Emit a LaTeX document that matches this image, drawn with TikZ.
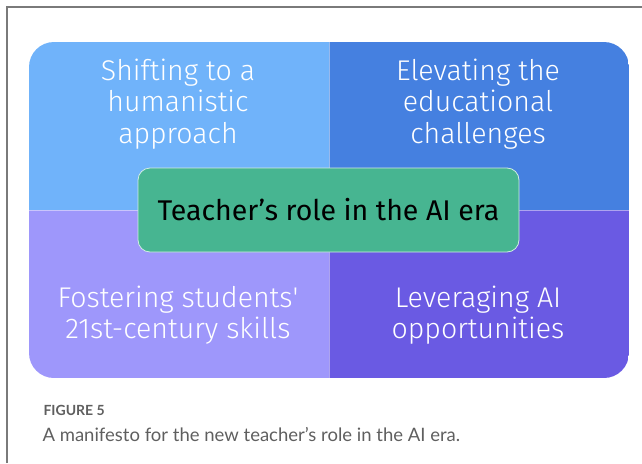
\documentclass[tikz,border=0pt]{standalone}
\usepackage{fontspec}
\setmainfont{Fira Sans}
\newfontfamily\quadfont{Fira Sans Light}
\newfontfamily\capfont{Lato}
\usepackage{xcolor}
\definecolor{sky}{HTML}{70B3FA}
\definecolor{ocean}{HTML}{4580E0}
\definecolor{lilac}{HTML}{9E97FB}
\definecolor{violet}{HTML}{6A5AE3}
\definecolor{mint}{HTML}{47B591}
\definecolor{framegray}{HTML}{7A7A7A}
\definecolor{capgray}{HTML}{5F5F5F}

\begin{document}
\begin{tikzpicture}[x=1pt,y=-1pt]
  \tikzstyle{quad}=[text=white,align=center,font=\quadfont\fontsize{28.5}{31.5}\selectfont]
  \useasboundingbox (0,0) rectangle (642,463);

  % page frame
  \draw[framegray,line width=1.3pt] (7,463) -- (7,7) -- (642,7);

  % the four quarters, clipped to one rounded panel
  \begin{scope}
    \clip[rounded corners=25pt] (29,42) rectangle (629,378);
    \fill[sky] (29,42) rectangle (329,210);
    \fill[ocean] (329,42) rectangle (629,210);
    \fill[lilac] (29,210) rectangle (329,378);
    \fill[violet] (329,210) rectangle (629,378);
    \draw[white,opacity=0.45,line width=0.8pt] (329,42) -- (329,378);
    \draw[white,opacity=0.45,line width=0.8pt] (29,210) -- (629,210);
  \end{scope}

  \node[quad] (shift) at (178,104) {Shifting to a\\humanistic\\approach};
  \node[quad] (elev) at (478,104) {Elevating the\\educational\\challenges};
  \node[quad] (foster) at (178,315) {Fostering students\textquotesingle\\21st-century skills};
  \node[quad] (lever) at (478,315) {Leveraging AI\\opportunities};

  \node[draw=white!75!mint,line width=0.8pt,fill=mint,rounded corners=12pt,
        minimum width=381pt,minimum height=84pt,
        font=\fontsize{28.5}{31}\selectfont] (role) at (328.5,210) {Teacher’s role in the AI era};

  % caption
  \node[anchor=west,text=capgray,font=\capfont\bfseries\fontsize{14}{16}\selectfont] (fig) at (40,410) {FIGURE 5};
  \node[anchor=west,text=capgray,font=\capfont\fontsize{18.5}{22}\selectfont] (cap) at (39,434) {A manifesto for the new teacher’s role in the AI era.};
\end{tikzpicture}
\end{document}
